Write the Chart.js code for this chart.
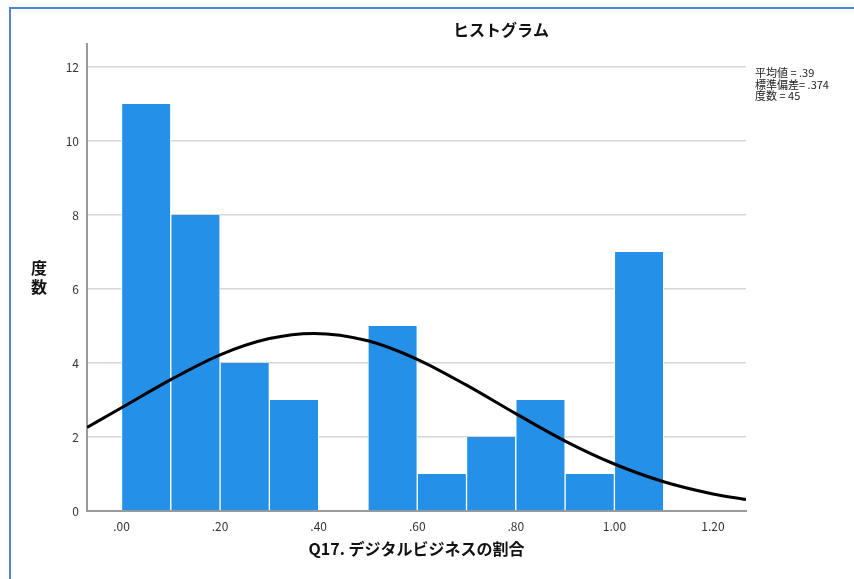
<!DOCTYPE html>
<html>
<head>
<meta charset="utf-8">
<script src="https://cdn.jsdelivr.net/npm/chart.js@4.4.1/dist/chart.umd.min.js"></script>
<style>
  html, body { margin: 0; padding: 0; background: #fff; }
  #frame {
    position: absolute; left: 9px; top: 7px; right: -10px; bottom: -10px;
    border-left: 2px solid #4f84d8; border-top: 2px solid #4f84d8;
  }
  #wrap { position: absolute; left: 0; top: 0; width: 854px; height: 579px; }
</style>
</head>
<body>
<div id="frame"></div>
<div id="wrap"><canvas id="hist" width="854" height="579"></canvas></div>
<script>
// histogram bins (centre of each 0.1 wide bin) and counts
const binCenters = [0.05, 0.15, 0.25, 0.35, 0.45, 0.55, 0.65, 0.75, 0.85, 0.95, 1.05];
const binCounts  = [11, 8, 4, 3, 0, 5, 1, 2, 3, 1, 7];

// normal curve
const curveX = [-0.07, 0.0, 0.1, 0.2, 0.3, 0.39, 0.5, 0.6, 0.7, 0.8, 0.9, 1.0, 1.1, 1.2, 1.267];
const curveY = [2.26, 2.79, 3.55, 4.22, 4.66, 4.80, 4.60, 4.10, 3.40, 2.63, 1.89, 1.27, 0.79, 0.46, 0.31];

const xTicks = [0, 0.2, 0.4, 0.6, 0.8, 1.0, 1.2];
const yTicks = [0, 2, 4, 6, 8, 10, 12];

const statLines = ['平均値 = .39', '標準偏差= .374', '度数 = 45'];

const FONT = '"Noto Sans CJK JP", "Liberation Sans", sans-serif';

let fmtX = function (v) {
    let s = v.toFixed(2);
    return s.startsWith('0') ? s.slice(1) : s;
};

let textPlugin = {
    id: 'spssText',
    afterDraw: function (chart) {
        let ctx = chart.ctx;
        let a = chart.chartArea;
        ctx.save();
        ctx.fillStyle = '#111';
        ctx.textBaseline = 'middle';

        ctx.font = 'bold 16px ' + FONT;
        ctx.textAlign = 'center';
        ctx.fillText('ヒストグラム', 501, 30);
        ctx.fillText('Q17. デジタルビジネスの割合', (a.left + a.right) / 2, 549);
        ctx.fillText('度', 39, 268);
        ctx.fillText('数', 39, 287);

        ctx.font = '11px ' + FONT;
        ctx.textAlign = 'left';
        ctx.fillStyle = '#222';
        statLines.forEach(function (line, i) {
            ctx.fillText(line, 755, 73 + i * 11.5);
        });
        ctx.restore();
    }
};

let ctx = document.getElementById('hist').getContext('2d');

window.histChart = new Chart(ctx, {
    type: 'bar',
    data: {
        datasets: [{
            type: 'line',
            data: curveX.map((x, i) => ({ x: x, y: curveY[i] })),
            borderColor: '#000',
            borderWidth: 3,
            pointRadius: 0,
            cubicInterpolationMode: 'monotone',
            fill: false,
            order: 0
        }, {
            type: 'bar',
            data: binCenters.map((x, i) => ({ x: x, y: binCounts[i] })),
            backgroundColor: '#2490e8',
            borderColor: '#ffffff',
            borderWidth: { left: 1, right: 1, top: 0, bottom: 0 },
            barPercentage: 1,
            categoryPercentage: 1,
            order: 1
        }]
    },
    options: {
        responsive: false,
        animation: false,
        layout: { padding: { left: 0, top: 44, right: 108, bottom: 0 } },
        plugins: {
            legend: { display: false },
            tooltip: { enabled: false },
            title: { display: false }
        },
        scales: {
            x: {
                type: 'linear',
                offset: false,
                min: -0.07,
                max: 1.267,
                afterFit: function (s) { s.height = 68; },
                afterBuildTicks: function (s) { s.ticks = xTicks.map(v => ({ value: v })); },
                grid: { display: false, drawTicks: false, offset: false },
                border: { color: '#9a9a9a', width: 2 },
                ticks: {
                    padding: 8,
                    color: '#333',
                    font: { size: 12, family: FONT },
                    callback: v => fmtX(v)
                }
            },
            y: {
                min: 0,
                max: 12.62,
                afterFit: function (s) { s.width = 87; },
                afterBuildTicks: function (s) { s.ticks = yTicks.map(v => ({ value: v })); },
                grid: { color: '#d6d6d6', lineWidth: 1.5, drawTicks: false },
                border: { color: '#9a9a9a', width: 2 },
                ticks: {
                    padding: 8,
                    color: '#333',
                    font: { size: 12, family: FONT }
                }
            }
        }
    },
    plugins: [textPlugin]
});
</script>
</body>
</html>
